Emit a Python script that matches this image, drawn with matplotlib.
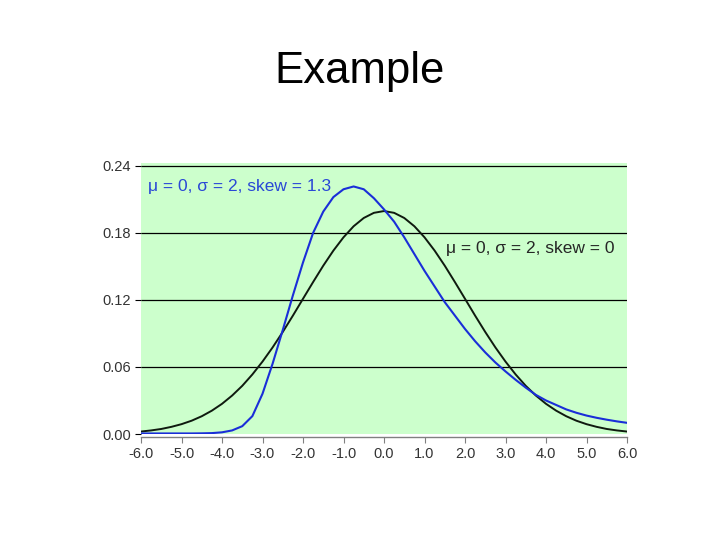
import matplotlib
matplotlib.use('Agg')
import matplotlib.pyplot as plt

plt.rcParams['font.family'] = ['Liberation Sans', 'DejaVu Sans']

x_vals = [-6.0, -5.75, -5.5, -5.25, -5.0, -4.75, -4.5, -4.25, -4.0, -3.75, -3.5, -3.25,
          -3.0, -2.75, -2.5, -2.25, -2.0, -1.75, -1.5, -1.25, -1.0, -0.75, -0.5, -0.25,
          0.0, 0.25, 0.5, 0.75, 1.0, 1.25, 1.5, 1.75, 2.0, 2.25, 2.5, 2.75,
          3.0, 3.25, 3.5, 3.75, 4.0, 4.25, 4.5, 4.75, 5.0, 5.25, 5.5, 5.75, 6.0]

# mu = 0, sigma = 2, skew = 0 (black)
sym_vals = [0.0022, 0.0032, 0.0045, 0.0064, 0.0088, 0.0119, 0.0159, 0.0209, 0.0270, 0.0344,
            0.0431, 0.0533, 0.0648, 0.0775, 0.0913, 0.1059, 0.1210, 0.1360, 0.1506, 0.1641,
            0.1760, 0.1859, 0.1933, 0.1979, 0.1995, 0.1979, 0.1933, 0.1859, 0.1760, 0.1641,
            0.1506, 0.1360, 0.1210, 0.1059, 0.0913, 0.0775, 0.0648, 0.0533, 0.0431, 0.0344,
            0.0270, 0.0209, 0.0159, 0.0119, 0.0088, 0.0064, 0.0045, 0.0032, 0.0022]

# mu = 0, sigma = 2, skew = 1.3 (blue)
skew_vals = [0.0005, 0.0005, 0.0005, 0.0005, 0.0005, 0.0005, 0.0006, 0.0008, 0.0015, 0.0032,
             0.0070, 0.0160, 0.0360, 0.0630, 0.0930, 0.1240, 0.1535, 0.1800, 0.1990, 0.2120,
             0.2190, 0.2215, 0.2190, 0.2110, 0.2010, 0.1900, 0.1760, 0.1610, 0.1460, 0.1320,
             0.1180, 0.1060, 0.0940, 0.0830, 0.0730, 0.0640, 0.0560, 0.0485, 0.0415, 0.0350,
             0.0300, 0.0260, 0.0220, 0.0190, 0.0165, 0.0145, 0.0128, 0.0113, 0.0100]

x_ticks = [-6, -5, -4, -3, -2, -1, 0, 1, 2, 3, 4, 5, 6]
x_labels = ['-6.0', '-5.0', '-4.0', '-3.0', '-2.0', '-1.0', '0.0', '1.0', '2.0', '3.0', '4.0', '5.0', '6.0']
y_ticks = [0.0, 0.06, 0.12, 0.18, 0.24]
y_labels = ['0.00', '0.06', '0.12', '0.18', '0.24']

sym_label = 'μ = 0, σ = 2, skew = 0'
skew_label = 'μ = 0, σ = 2, skew = 1.3'

fig = plt.figure(figsize=(7.2, 5.4), dpi=100)
fig.text(0.5, 1 - 83 / 540, 'Example', ha='center', va='baseline', fontsize=31.5, color='black')

ax = fig.add_axes([141 / 720, 1 - 434 / 540, 486 / 720, 271 / 540])
ax.set_facecolor('#ccffcc')

# horizontal grid lines (not at zero)
ax.hlines(y_ticks[1:], -6, 6, color='black', linewidth=0.9, zorder=1)

ax.plot(x_vals, sym_vals, color='#0f1a0f', linewidth=1.4, zorder=3)
ax.plot(x_vals, skew_vals, color='#1a2ed8', linewidth=1.5, zorder=4)

ax.text(-5.83, 0.2212, skew_label, color='#2a48d6', fontsize=12.5, va='center', ha='left')
ax.text(1.53, 0.1657, sym_label, color='#262626', fontsize=12.5, va='center', ha='left')

ax.set_xlim(-6, 6)
ax.set_ylim(0, 0.2425)
ax.set_xticks(x_ticks)
ax.set_xticklabels(x_labels)
ax.set_yticks(y_ticks)
ax.set_yticklabels(y_labels)

for side in ['left', 'top', 'right']:
    ax.spines[side].set_visible(False)
ax.spines['bottom'].set_color('#808080')
ax.spines['bottom'].set_linewidth(1.0)
ax.spines['bottom'].set_position(('outward', 2))

ax.tick_params(axis='x', direction='out', length=4, width=0.8, color='#808080',
               labelsize=10.5, labelcolor='#333333', pad=3)
ax.tick_params(axis='y', direction='out', length=4, width=0.8, color='black',
               labelsize=10.5, labelcolor='#333333', pad=3)

fig.savefig('out.png', dpi=100)
